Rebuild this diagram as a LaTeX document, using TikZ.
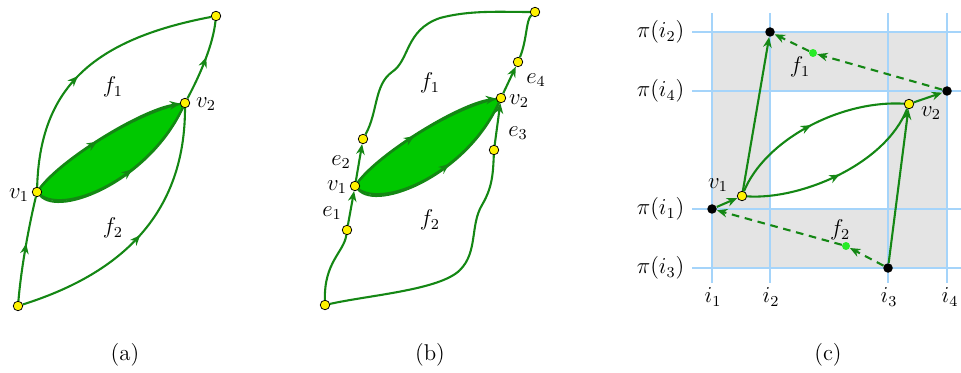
\documentclass[tikz,border=0pt]{standalone}
\usetikzlibrary{arrows.meta,decorations.markings,backgrounds}
\definecolor{edgegreen}{RGB}{20,135,20}
\definecolor{lensgreen}{RGB}{0,200,0}
\definecolor{facegreen}{RGB}{40,235,40}
\definecolor{gridblue}{RGB}{165,212,250}
\definecolor{cellgray}{RGB}{228,228,228}

\begin{document}
\begin{tikzpicture}[x=0.0185cm, y=-0.0185cm, every node/.style={font=\large},
  vtx/.style={draw, circle, fill=yellow, inner sep=0pt, minimum size=5pt, line width=0.4pt},
  pt/.style={circle, fill=black, inner sep=0pt, minimum size=5pt},
  fpt/.style={circle, fill=facegreen, inner sep=0pt, minimum size=4.2pt},
  conn/.style={draw=edgegreen, line width=1.1pt},
  arr/.style={conn, -{Stealth[length=5.5pt,width=4.5pt]}},
  dasharr/.style={arr, dash pattern=on 4pt off 3pt},
  midarr/.style={postaction={decorate}, decoration={markings, mark=at position #1 with {\arrow{Stealth[length=5.5pt,width=4.5pt]}}}},
  midarr/.default=0.5,
  lensline/.style={shorten <=2.5pt, shorten >=2.5pt},
  lens/.style={conn, fill=lensgreen},
  gline/.style={draw=gridblue, line width=0.6pt}
]
\useasboundingbox (0,0) rectangle (961,373);

% (a)
\node[vtx] (a0) at (18,306) {};
\node[vtx] (a1) at (37,192) {};
\node[vtx] (a2) at (185,103) {};
\node[vtx] (a3) at (216,16) {};
\begin{scope}[on background layer]
\filldraw[lens] (a1.center) .. controls (60,160) and (140,110) .. (a2.center) .. controls (150,180) and (60,218) .. cycle;
\end{scope}
\draw[conn, midarr=0.55] (a0) .. controls (21,270) and (28,230) .. (a1);
\draw[conn, midarr=0.45] (a1) .. controls (40,90) and (90,40) .. (a3);
\draw[conn, midarr=0.5] (a0) .. controls (100,280) and (185,230) .. (a2);
\draw[conn, midarr=0.55] (a2) .. controls (200,75) and (213,45) .. (a3);
\draw[arr, lensline, midarr=0.45] (a1.center) .. controls (60,160) and (140,110) .. (a2.center);
\draw[conn, lensline, midarr=0.55] (a1.center) .. controls (60,218) and (150,180) .. (a2.center);
\node (af1) at (113,87) {$f_1$};
\node (af2) at (113,228) {$f_2$};
\node (av1) at (19,195) {$v_1$};
\node (av2) at (206,104) {$v_2$};
\node (capa) at (125,355) {(a)};

% (b)
\node[vtx] (b0) at (325,305) {};
\node[vtx] (be1) at (347,230) {};
\node[vtx] (b1) at (355,186) {};
\node[vtx] (be2) at (363,139) {};
\node[vtx] (be3) at (494,150) {};
\node[vtx] (b2) at (501,98) {};
\node[vtx] (be4) at (518,62) {};
\node[vtx] (b3) at (535,12) {};
\begin{scope}[on background layer]
\filldraw[lens] (b1.center) .. controls (378,154) and (458,104) .. (b2.center) .. controls (468,174) and (378,212) .. cycle;
\end{scope}
\draw[conn] (b0) .. controls (324,262) and (344,252) .. (be1);
\draw[arr] (be1) -- (b1);
\draw[arr] (b1) -- (be2);
\draw[conn] (be2) .. controls (378,112) and (374,85) .. (392,72) .. controls (410,60) and (405,30) .. (440,18) .. controls (470,10) and (500,12) .. (b3);
\draw[conn] (b0) .. controls (370,295) and (440,290) .. (460,270) .. controls (478,252) and (470,225) .. (482,205) .. controls (492,188) and (493,175) .. (be3);
\draw[arr] (be3) -- (b2);
\draw[arr] (b2) -- (be4);
\draw[conn] (be4) .. controls (527,40) and (526,20) .. (b3);
\draw[arr, lensline, midarr=0.45] (b1.center) .. controls (378,154) and (458,104) .. (b2.center);
\draw[conn, lensline, midarr=0.55] (b1.center) .. controls (378,212) and (468,174) .. (b2.center);
\node (bf1) at (430,83) {$f_1$};
\node (bf2) at (430,220) {$f_2$};
\node (bv1) at (337,187) {$v_1$};
\node (bv2) at (519,101) {$v_2$};
\node (bl1) at (332,213) {$e_1$};
\node (bl2) at (341,162) {$e_2$};
\node (bl3) at (518,133) {$e_3$};
\node (bl4) at (536,80) {$e_4$};
\node (capb) at (430,355) {(b)};

% (c)
\fill[cellgray, even odd rule] (712,32) rectangle (947,268) (770,91) rectangle (888,209);
\foreach \x in {712,770,888,947}
  \draw[gline] (\x,13) -- (\x,283);
\foreach \y in {32,91,209,268}
  \draw[gline] (692,\y) -- (961,\y);
\node[pt] (c2) at (770,32) {};
\node[pt] (c4) at (947,91) {};
\node[pt] (c1) at (712,209) {};
\node[pt] (c3) at (888,268) {};
\node[vtx] (cv1) at (742,196) {};
\node[vtx] (cv2) at (909,104) {};
\node[fpt] (cf1) at (813,53) {};
\node[fpt] (cf2) at (846,246) {};
\draw[arr] (c1) -- (cv1);
\draw[arr] (cv1) -- (c2);
\draw[conn, midarr=0.5] (cv1) .. controls (765,140) and (840,100) .. (cv2);
\draw[conn, midarr=0.5] (cv1) .. controls (800,200) and (885,165) .. (cv2);
\draw[arr] (c3) -- (cv2);
\draw[arr] (cv2) -- (c4);
\draw[dasharr] (c4) -- (cf1);
\draw[dasharr] (cf1) -- (c2);
\draw[dasharr] (c3) -- (cf2);
\draw[dasharr] (cf2) -- (c1);
\node[anchor=east] (p2) at (691,32) {$\pi(i_2)$};
\node[anchor=east] (p4) at (691,91) {$\pi(i_4)$};
\node[anchor=east] (p1) at (691,209) {$\pi(i_1)$};
\node[anchor=east] (p3) at (691,268) {$\pi(i_3)$};
\node (q1) at (713,297) {$i_1$};
\node (q2) at (771,297) {$i_2$};
\node (q3) at (889,297) {$i_3$};
\node (q4) at (950,297) {$i_4$};
\node (cl1) at (718,185) {$v_1$};
\node (cl2) at (931,113) {$v_2$};
\node (cg1) at (800,67) {$f_1$};
\node (cg2) at (840,230) {$f_2$};
\node (capc) at (828,355) {(c)};
\end{tikzpicture}
\end{document}
